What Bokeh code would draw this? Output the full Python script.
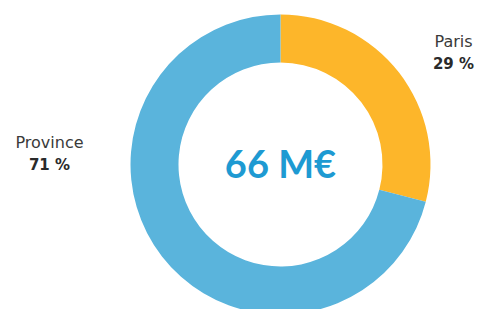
import math
from bokeh.plotting import figure
from bokeh.models import ColumnDataSource, Range1d
from bokeh.core.properties import value
from bokeh.embed import file_html
from bokeh.resources import INLINE

categories = ["Paris", "Province"]
shares = [29, 71]
colors = ["#FDB62A", "#5AB4DC"]
pct_labels = ["29 %", "71 %"]
total_label = "66 M€"

W, H = 477, 309
p = figure(width=W, height=H, output_backend="svg", toolbar_location=None,
           x_range=Range1d(0, W), y_range=Range1d(0, H),
           min_border=0, outline_line_color=None)
p.axis.visible = False
p.grid.visible = False
p.background_fill_color = "white"

cx, cy = 280, 309 - 164
starts, ends = [], []
a = math.pi / 2
for s in shares:
    e = a - s / 100 * 2 * math.pi
    starts.append(e)
    ends.append(a)
    a = e
src = ColumnDataSource(dict(start=starts, end=ends, color=colors))
p.annular_wedge(x=cx, y=cy, inner_radius=102, outer_radius=150,
                start_angle="start", end_angle="end", color="color",
                line_color=None, source=src)

font = value("DejaVu Sans")
p.text(x=[453], y=[309 - 41], text=[categories[0]], text_font=font,
       text_font_size="16px", text_color="#3a3a3a", text_align="center",
       text_baseline="middle")
p.text(x=[453], y=[309 - 63], text=[pct_labels[0]], text_font=font,
       text_font_size="15px", text_font_style="bold", text_color="#2a2a2a",
       text_align="center", text_baseline="middle")
p.text(x=[49], y=[309 - 142], text=[categories[1]], text_font=font,
       text_font_size="16px", text_color="#3a3a3a", text_align="center",
       text_baseline="middle")
p.text(x=[49], y=[309 - 164], text=[pct_labels[1]], text_font=font,
       text_font_size="15px", text_font_style="bold", text_color="#2a2a2a",
       text_align="center", text_baseline="middle")
p.text(x=[cx], y=[309 - 162], text=[total_label], text_font=value("Lato"),
       text_font_size="38px", text_font_style="bold", text_color="#1E9AD2",
       text_align="center", text_baseline="middle")

open("out.html", "w").write(file_html(p, INLINE))
